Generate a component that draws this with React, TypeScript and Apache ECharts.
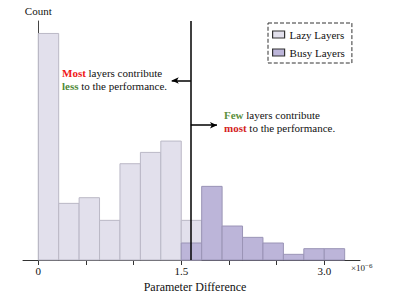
import React, { useEffect, useRef } from "react";
import * as echarts from "echarts";

// Histogram bins (units of 1e-6); regular bins of width 1.5/7
const BIN_WIDTH = 1.5 / 7;
const lazyCounts = [40, 10, 11, 7, 17, 19, 21, 7];
const busyCounts = [3, 13, 6, 4, 3, 1, 2, 2];
const busyStartBin = 7;
const tickValues = [0, 0.5, 1.0, 1.5, 2.0, 2.5, 3.0];
const labelValues = [0, 1.5, 3.0];
const splitValue = 1.6;

const FONT = "Liberation Serif";

function binData(counts: number[], start: number) {
  return counts.map((c, i) => [(start + i) * BIN_WIDTH, (start + i + 1) * BIN_WIDTH, c]);
}

function makeRender(fill: string, stroke: string) {
  return (params: any, api: any) => {
    const x0 = api.value(0);
    const x1 = api.value(1);
    const c = api.value(2);
    const p0 = api.coord([x0, c]);
    const p1 = api.coord([x1, 0]);
    return {
      type: "rect",
      shape: { x: p0[0], y: p0[1], width: p1[0] - p0[0], height: p1[1] - p0[1] },
      style: { fill, stroke, lineWidth: 1 },
    };
  };
}

const base = { fontFamily: FONT, fontSize: 11, lineHeight: 13, color: "#111" };

export default function App() {
  const ref = useRef<HTMLDivElement>(null);
  useEffect(() => {
    if (!ref.current) return;
    const chart = echarts.init(ref.current, undefined, { renderer: "svg" });
    const lazyFill = "#e2e0ec";
    const lazyStroke = "#bab8c6";
    const busyFill = "#bcb5d9";
    const busyStroke = "#9a94b6";
    chart.setOption({
      animation: false,
      textStyle: { fontFamily: FONT },
      title: [
        {
          text: "{r|Most} layers contribute\n{g|less} to the performance.",
          left: 62,
          top: 66,
          padding: 0,
          textStyle: {
            ...base,
            fontWeight: "normal",
            rich: {
              r: { ...base, fontWeight: "bold", color: "#f01818" },
              g: { ...base, fontWeight: "bold", color: "#4f8a3a" },
            },
          },
        },
        {
          text: "{g|Few} layers contribute\n{r|most} to the performance.",
          left: 224,
          top: 108,
          padding: 0,
          textStyle: {
            ...base,
            fontWeight: "normal",
            rich: {
              r: { ...base, fontWeight: "bold", color: "#d41e1e" },
              g: { ...base, fontWeight: "bold", color: "#5a8f3c" },
            },
          },
        },
        {
          text: "×10{s|−6}",
          left: 351,
          top: 262,
          padding: 0,
          textStyle: {
            fontFamily: FONT,
            fontSize: 9,
            fontWeight: "normal",
            color: "#222",
            rich: {
              s: { fontFamily: FONT, fontSize: 7, color: "#222", verticalAlign: "top", padding: [0, 0, 5, 0] },
            },
          },
        },
      ],
      grid: { left: 23, right: 44, top: 21, bottom: 42 },
      legend: {
        orient: "vertical",
        left: 268,
        top: 23,
        padding: [6, 7, 5, 4],
        itemGap: 7,
        itemWidth: 12,
        itemHeight: 7,
        borderColor: "#333",
        borderWidth: 1,
        borderType: "dashed",
        textStyle: { fontFamily: FONT, fontSize: 11, color: "#111" },
        data: [
          { name: "Lazy Layers", icon: "rect", itemStyle: { color: lazyFill, borderColor: "#333", borderWidth: 1.2 } },
          { name: "Busy Layers", icon: "rect", itemStyle: { color: busyFill, borderColor: "#333", borderWidth: 1.2 } },
        ],
      },
      xAxis: {
        type: "value",
        min: -0.16,
        max: 3.375,
        name: "Parameter Difference",
        nameLocation: "middle",
        nameGap: 21,
        nameTextStyle: { fontFamily: FONT, fontSize: 12, color: "#111", padding: [0, 0, 0, 7] },
        axisLine: { show: true, lineStyle: { color: "#333", width: 1 } },
        axisTick: { show: true, length: 5, inside: false, customValues: tickValues, lineStyle: { color: "#333" } },
        axisLabel: {
          customValues: labelValues,
          margin: 5,
          fontFamily: FONT,
          fontSize: 11,
          color: "#111",
          formatter: (v: number) => (v === 0 ? "0" : v.toFixed(1)),
        },
        splitLine: { show: false },
      },
      yAxis: {
        type: "value",
        min: 0,
        max: 42.2,
        name: "Count",
        nameLocation: "end",
        nameGap: 5,
        nameTextStyle: { fontFamily: FONT, fontSize: 11, color: "#111" },
        axisLine: { show: true, lineStyle: { color: "#444", width: 1 } },
        axisTick: { show: false },
        axisLabel: { show: false },
        splitLine: { show: false },
      },
      series: [
        {
          name: "Lazy Layers",
          type: "custom",
          renderItem: makeRender(lazyFill, lazyStroke),
          itemStyle: { color: lazyFill, borderColor: "#333" },
          encode: { x: [0, 1], y: 2 },
          data: binData(lazyCounts, 0),
          z: 2,
        },
        {
          name: "Busy Layers",
          type: "custom",
          renderItem: makeRender(busyFill, busyStroke),
          itemStyle: { color: busyFill, borderColor: "#333" },
          encode: { x: [0, 1], y: 2 },
          data: binData(busyCounts, busyStartBin),
          z: 3,
          markLine: {
            silent: true,
            symbol: "none",
            label: { show: false },
            lineStyle: { color: "#000", width: 1.5, type: "solid" },
            data: [
              { xAxis: splitValue },
              [
                { coord: [splitValue, 31.7], symbol: "none" },
                { coord: [1.4, 31.7], symbol: "arrow", symbolSize: [5, 7] },
              ],
              [
                { coord: [splitValue, 23.8], symbol: "none" },
                { coord: [1.875, 23.8], symbol: "arrow", symbolSize: [5, 7] },
              ],
            ],
          },
        },
      ],
    });
    return () => chart.dispose();
  }, []);
  return <div ref={ref} style={{ width: 404, height: 302, margin: -8 }} />;
}
